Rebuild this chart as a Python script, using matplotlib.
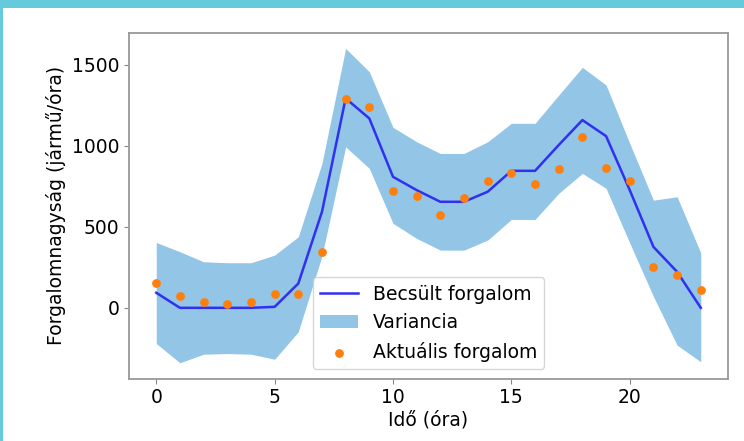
import matplotlib
matplotlib.use("Agg")
import matplotlib.pyplot as plt
from matplotlib.patches import Rectangle
from matplotlib.ticker import MultipleLocator

# hours of the day
ora = list(range(24))
# estimated traffic (line)
becsult = [93, 0, 0, 0, 0, 6, 150, 592, 1292, 1168, 808, 726, 654, 654,
           716, 845, 845, 1004, 1158, 1059, 726, 376, 222, 0]
# measured traffic (dots)
aktualis = [154, 70, 33, 21, 33, 83, 83, 346, 1288, 1236, 722, 689, 572, 679,
            782, 829, 763, 854, 1055, 860, 782, 249, 202, 109]
# variance band
felso = [403, 346, 284, 278, 278, 325, 438, 891, 1600, 1456, 1113, 1024, 952, 952,
         1024, 1138, 1138, 1312, 1483, 1374, 1014, 664, 685, 339]
also = [-220, -339, -286, -282, -286, -317, -148, 320, 993, 860, 521, 428, 356, 356,
        418, 545, 545, 706, 829, 737, 400, 70, -230, -333]

plt.rcParams["font.family"] = ["DejaVu Sans"]
fs = 13.5

fig = plt.figure(figsize=(7.44, 4.41), dpi=100)
ax = fig.add_axes([0.1734, 0.1417, 0.8051, 0.7842])

ax.fill_between(ora, also, felso, color="#93c5e6", linewidth=0, label="Variancia")
ax.plot(ora, becsult, color="#3030f0", lw=1.8, label="Becsült forgalom")
ax.scatter(ora, aktualis, s=28, color="#ff7f0e", zorder=3, label="Aktuális forgalom")

ax.yaxis.set_major_locator(MultipleLocator(500))
ax.xaxis.set_major_locator(MultipleLocator(5))
ax.set_xlabel("Idő (óra)", fontsize=fs, labelpad=2)
ax.set_ylabel("Forgalomnagyság (jármű/óra)", fontsize=fs)
ax.tick_params(labelsize=fs, color="#888888")
for s in ax.spines.values():
    s.set_color("#999999")
    s.set_linewidth(1.3)

h, l = ax.get_legend_handles_labels()
order = [1, 0, 2]
ax.legend([h[i] for i in order], [l[i] for i in order], loc="lower center",
          fontsize=fs, scatterpoints=1)

# teal frame of the original screenshot
fig.add_artist(Rectangle((0, 1 - 8 / 441), 1, 8 / 441, transform=fig.transFigure,
                         color="#66cadd", lw=0))
fig.add_artist(Rectangle((0, 0), 2.5 / 744, 1, transform=fig.transFigure,
                         color="#66cadd", lw=0))

fig.savefig("out.png", dpi=100)
